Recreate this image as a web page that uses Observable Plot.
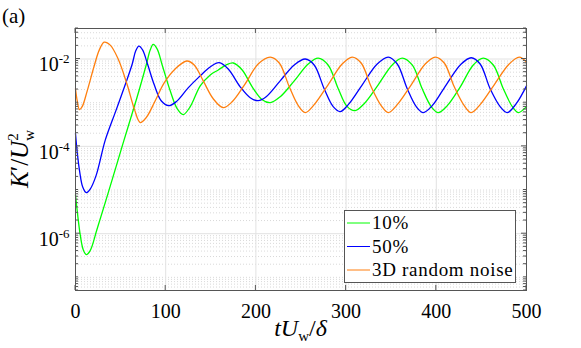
<!DOCTYPE html>
<html><head><meta charset="utf-8">
<script src="https://cdn.jsdelivr.net/npm/d3@7"></script>
<script src="https://cdn.jsdelivr.net/npm/@observablehq/plot@0.6"></script>
<style>body{margin:0;background:#fff;} svg{display:block}</style>
</head><body><div id="chart"></div>
<script>
const seriesNames = ["10%", "50%", "3D random noise"];
const seriesColors = ["#00ff00", "#0000ff", "#ff7f0e"];

const tGreen = [0,2.4,5.2,8.5,11.9,16.3,23.7,38.5,53.7,68.1,78.4,82.8,86.1,90.6,96.1,105,112.7,119.4,127.2,138.3,149.4,158.3,167.1,174.9,184.8,195.9,207,215.9,227,242.5,258,269,280,291.3,301.2,310,320,335.6,351.1,362.2,373.3,384.4,394.4,402.2,412.2,426.6,441,452,463.2,474.3,484.3,490.8,500];
const kGreen = [7.69e-6,2.70e-6,9.49e-7,4.33e-7,3.33e-7,4.11e-7,1.23e-6,1.23e-5,1.37e-4,1.30e-3,7.31e-3,0.0160,0.0216,0.0169,7.31e-3,1.87e-3,7.31e-4,5.34e-4,8.11e-4,2.43e-3,4.33e-3,5.62e-3,7.31e-3,8.11e-3,5.62e-3,2.31e-3,1.17e-3,1.00e-3,1.37e-3,3.16e-3,7.69e-3,0.0105,7.31e-3,2.08e-3,8.11e-4,6.58e-4,9.49e-4,2.57e-3,7.31e-3,0.0105,7.31e-3,2.08e-3,8.11e-4,5.93e-4,8.55e-4,2.31e-3,7.31e-3,0.0105,7.31e-3,2.08e-3,8.11e-4,5.93e-4,8.11e-4];

const tBlue = [0,1.9,4.7,8,11.9,16.3,23,32.9,44,55.1,62.9,66.7,70.3,74.5,79.5,87.3,95,103.3,111.6,124.9,138.2,149.3,159.3,169.3,182.6,193.7,202.5,211.4,226.9,242.5,254.7,264.6,275.7,285.7,293.5,302.4,317.9,334.5,346.7,356.7,367.8,377.8,385.6,395.5,411,427.6,438.7,448.6,459.7,470.8,478.6,488.6,500];
const kBlue = [1.97e-4,7.31e-5,2.57e-5,1.17e-5,8.69e-6,1.05e-5,2.19e-5,1.37e-4,5.93e-4,2.57e-3,7.69e-3,0.0152,0.0197,0.0160,8.11e-3,2.57e-3,1.11e-3,8.55e-4,1.05e-3,2.19e-3,4.11e-3,6.58e-3,8.24e-3,5.93e-3,2.31e-3,1.30e-3,1.11e-3,1.37e-3,3.16e-3,7.31e-3,0.0100,7.31e-3,2.08e-3,8.11e-4,6.24e-4,9.01e-4,2.57e-3,7.69e-3,0.0111,7.69e-3,2.08e-3,8.11e-4,5.93e-4,8.55e-4,2.57e-3,7.69e-3,0.0107,7.69e-3,2.08e-3,8.11e-4,5.93e-4,9.49e-4,2.43e-3];

const tOrange = [0,1.9,4.4,7.4,13,20.7,26.3,31.8,38.5,47.3,57.3,65.1,71.7,78.4,88.4,98.3,110.5,123.5,131.6,141.6,152.7,163.7,173.7,188.1,202.5,215.9,225.9,237,247,254.7,264.6,280,295.6,306.7,316.7,327.8,338.9,346.7,356.7,372.2,387.7,398.8,408.8,419.9,431,438.7,448.6,464.2,480.8,491.9,500];
const kOrange = [2.08e-3,1.11e-3,6.93e-4,8.11e-4,1.87e-3,6.93e-3,0.0160,0.0243,0.0208,0.0100,2.57e-3,7.31e-4,3.51e-4,4.56e-4,1.11e-3,2.85e-3,5.93e-3,9.01e-3,7.31e-3,3.16e-3,1.23e-3,7.69e-4,1.05e-3,2.70e-3,7.69e-3,0.0111,8.11e-3,2.31e-3,8.55e-4,5.93e-4,9.01e-4,2.57e-3,7.69e-3,0.0111,8.11e-3,2.31e-3,8.55e-4,5.93e-4,9.01e-4,2.57e-3,7.69e-3,0.0111,8.11e-3,2.31e-3,8.55e-4,5.93e-4,9.01e-4,2.57e-3,7.69e-3,0.0111,8.55e-3];

const xTicks = [0, 100, 200, 300, 400, 500];
const yMajorTicks = [1e-6, 1e-4, 1e-2];
const yTickExponents = ["-6", "-4", "-2"];
const yDomain = [5e-8, 0.05];
const xDomain = [0, 500];

const rows = [];
[[tGreen, kGreen], [tBlue, kBlue], [tOrange, kOrange]].forEach(([ts, ks], s) => {
  ts.forEach((t, i) => rows.push({t, k: ks[i], series: seriesNames[s]}));
});

// minor log ticks (2..9 x 10^k and odd decades)
const yMinorTicks = [];
for (let e = -8; e <= -1; e++) for (let m = 1; m <= 9; m++) {
  const v = m * Math.pow(10, e);
  if (v >= yDomain[0] && v <= yDomain[1] && !yMajorTicks.some(M => Math.abs(M - v) / v < 1e-9)) yMinorTicks.push(v);
}

const serif = "'Liberation Serif', 'DejaVu Serif', serif";
const expOf = d => {
  const j = yMajorTicks.findIndex(M => Math.abs(M - d) / d < 1e-9);
  return j >= 0 ? yTickExponents[j] : "";
};

const plot = Plot.plot({
  width: 581, height: 348,
  marginTop: 28, marginBottom: 58, marginLeft: 75, marginRight: 55,
  x: {domain: xDomain},
  y: {type: "log", domain: yDomain},
  color: {domain: seriesNames, range: seriesColors},
  style: {fontFamily: serif, fontSize: "20px", background: "#fff", color: "#000"},
  marks: [
    Plot.gridY(yMinorTicks, {stroke: "#c8c8c8", strokeOpacity: 1, strokeDasharray: "1,2", strokeWidth: 0.7}),
    Plot.gridY(yMajorTicks, {stroke: "#e2e2e2", strokeOpacity: 1, strokeWidth: 1}),
    Plot.gridX(xTicks.slice(1, -1), {stroke: "#e2e2e2", strokeOpacity: 1, strokeWidth: 1}),
    Plot.line(rows, {x: "t", y: "k", z: "series", stroke: "series", curve: "catmull-rom", strokeWidth: 1.3}),
    Plot.frame({stroke: "#555", strokeWidth: 1}),
    Plot.axisX(xTicks, {tickSize: 0, tickPadding: 13, label: null, fontSize: 20}),
    Plot.axisY(yMajorTicks, {tickSize: 0, tickPadding: 6, dy: 6, label: null, fontSize: 20, tickFormat: expOf})
  ]
});
document.getElementById("chart").appendChild(plot);

const svg = d3.select(plot);
svg.style("font-family", serif);
const xs = plot.scale("x"), ys = plot.scale("y");
const X = v => xs.apply(v), Y = v => ys.apply(v);
const x0 = X(xDomain[0]), x1 = X(xDomain[1]), yb = Y(yDomain[0]), yt = Y(yDomain[1]);

// superscript tick labels
svg.selectAll('[aria-label="y-axis tick label"] text').each(function () {
  const t = d3.select(this);
  const exp = t.text();
  t.text(null);
  t.append("tspan").text("10");
  t.append("tspan").attr("dy", -8).attr("font-size", 13).text(exp);
});

// inward ticks on all four sides
const tk = svg.append("g").attr("stroke", "#555").attr("stroke-width", 1);
xTicks.forEach(v => {
  tk.append("line").attr("x1", X(v)).attr("x2", X(v)).attr("y1", yb).attr("y2", yb - 5);
  tk.append("line").attr("x1", X(v)).attr("x2", X(v)).attr("y1", yt).attr("y2", yt + 5);
});
yMajorTicks.forEach(v => {
  tk.append("line").attr("x1", x0).attr("x2", x0 + 5).attr("y1", Y(v)).attr("y2", Y(v));
  tk.append("line").attr("x1", x1).attr("x2", x1 - 5).attr("y1", Y(v)).attr("y2", Y(v));
});
yMinorTicks.forEach(v => {
  tk.append("line").attr("x1", x0).attr("x2", x0 + 3).attr("y1", Y(v)).attr("y2", Y(v));
  tk.append("line").attr("x1", x1).attr("x2", x1 - 3).attr("y1", Y(v)).attr("y2", Y(v));
});

// panel label
svg.append("text").attr("x", 2).attr("y", 23).attr("text-anchor", "start")
  .style("font-family", serif).attr("font-size", 21).text("(a)");

// x label
const xl = svg.append("text").attr("x", (x0 + x1) / 2).attr("y", 336).attr("text-anchor", "middle")
  .style("font-family", serif).attr("font-size", 24);
xl.append("tspan").attr("font-style", "italic").text("tU");
xl.append("tspan").attr("font-size", 15).attr("dy", 5).text("w");
xl.append("tspan").attr("dy", -5).text("/");
xl.append("tspan").attr("font-style", "italic").text("δ");

// y label
const yl = svg.append("text").attr("transform", `translate(28,${(yt + yb) / 2}) rotate(-90)`)
  .attr("text-anchor", "middle").style("font-family", serif).attr("font-size", 25);
yl.append("tspan").attr("font-style", "italic").text("K");
yl.append("tspan").text("′/");
yl.append("tspan").attr("font-style", "italic").text("U");
yl.append("tspan").attr("font-size", 15).attr("dy", -10).text("2");
yl.append("tspan").attr("font-size", 15).attr("dx", -7.5).attr("dy", 16).text("w");

// legend
const lg = svg.append("g").attr("text-anchor", "start");
lg.append("rect").attr("x", 344.5).attr("y", 210.5).attr("width", 171).attr("height", 72)
  .attr("fill", "#fff").attr("stroke", "#555").attr("stroke-width", 1);
const rowsY = [223, 246.5, 270];
seriesNames.forEach((name, i) => {
  lg.append("line").attr("x1", 347).attr("x2", 370).attr("y1", rowsY[i]).attr("y2", rowsY[i])
    .attr("stroke", seriesColors[i]).attr("stroke-width", 1);
  lg.append("text").attr("x", 372).attr("y", rowsY[i] + 6).attr("text-anchor", "start")
    .style("font-family", serif).attr("font-size", 19).attr("letter-spacing", 0.7).text(name);
});
</script></body></html>
